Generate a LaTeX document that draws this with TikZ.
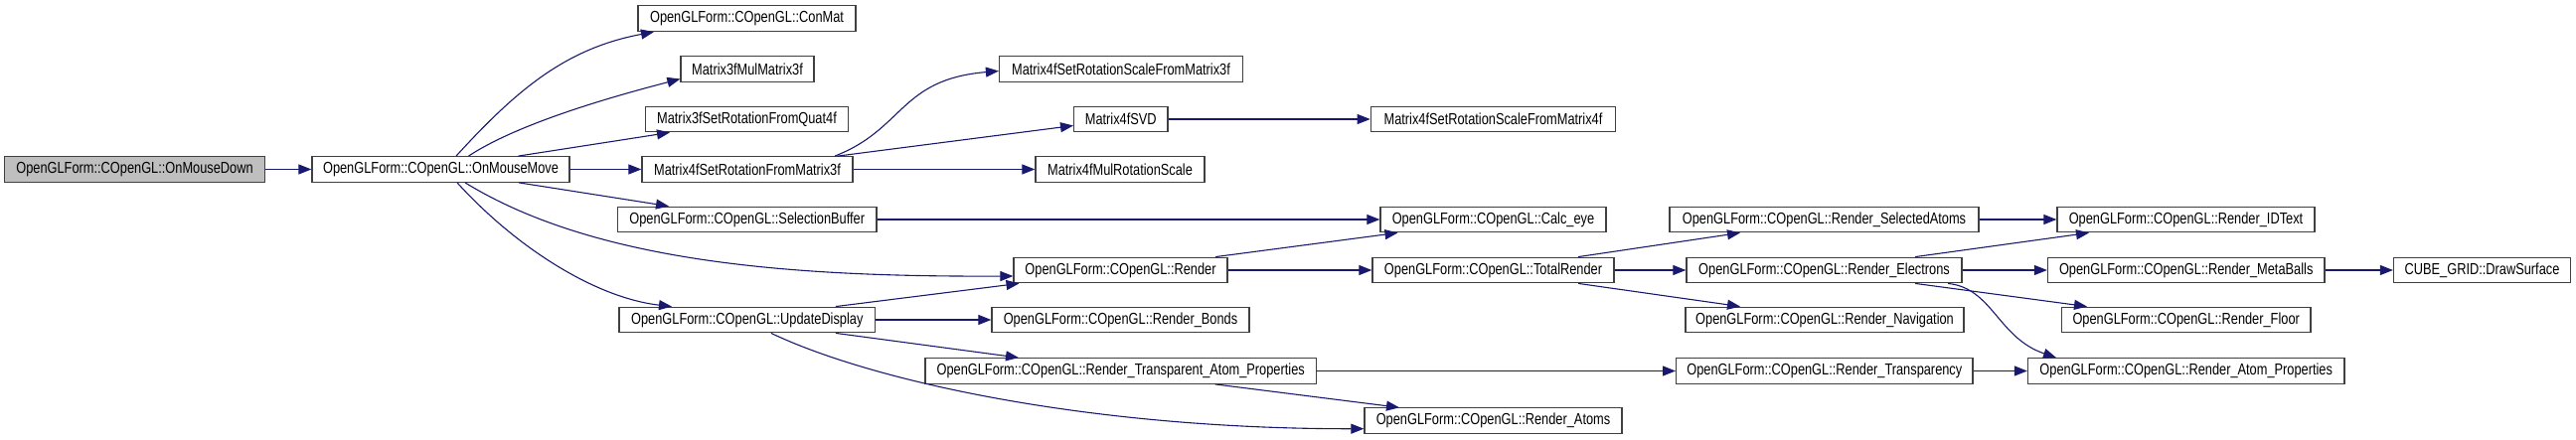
\documentclass[tikz,border=0pt]{standalone}
\usepackage{fontspec}
\setmainfont{Liberation Sans}[FakeStretch=0.8]
\usepackage{tikz}
\usetikzlibrary{arrows.meta}
\definecolor{callblue}{HTML}{191970}
\definecolor{rootgray}{HTML}{BFBFBF}
\definecolor{boxline}{HTML}{404040}

\begin{document}
\begin{tikzpicture}[x=1pt, y=-1pt,
  fn/.style={draw=boxline, line width=1.2pt, fill=white, inner sep=0pt, minimum height=25.6pt, font=\fontsize{16}{18}\selectfont},
  fnroot/.style={fn, fill=rootgray},
  call/.style={draw=callblue, line width=1.1pt, -{Triangle[length=13pt,width=10pt]}},
]
\useasboundingbox (0,0) rectangle (2592,443);

\node[fnroot, minimum width=262pt] (down) at (135.5,170.5) {OpenGLForm::COpenGL::OnMouseDown};
\node[fn, minimum width=259pt] (move) at (443.5,170.5) {OpenGLForm::COpenGL::OnMouseMove};

\node[fn, minimum width=219pt] (conmat) at (751.5,18.7) {OpenGLForm::COpenGL::ConMat};
\node[fn, minimum width=134pt] (m3mul) at (752,69.5) {Matrix3fMulMatrix3f};
\node[fn, minimum width=204pt] (m3quat) at (751.5,120) {Matrix3fSetRotationFromQuat4f};
\node[fn, minimum width=212pt] (m4rot) at (752,170.5) {Matrix4fSetRotationFromMatrix3f};
\node[fn, minimum width=260.5pt] (selbuf) at (751.7,221) {OpenGLForm::COpenGL::SelectionBuffer};
\node[fn, minimum width=257.6pt] (update) at (751.8,322) {OpenGLForm::COpenGL::UpdateDisplay};

\node[fn, minimum width=245pt] (m4rsm3) at (1128,69.5) {Matrix4fSetRotationScaleFromMatrix3f};
\node[fn, minimum width=94.4pt] (svd) at (1127.8,120) {Matrix4fSVD};
\node[fn, minimum width=170pt] (m4mul) at (1127,170.5) {Matrix4fMulRotationScale};
\node[fn, minimum width=215pt] (render) at (1127.5,272) {OpenGLForm::COpenGL::Render};
\node[fn, minimum width=259pt] (bonds) at (1127.5,322) {OpenGLForm::COpenGL::Render\_Bonds};
\node[fn, minimum width=393.5pt] (transp) at (1127.7,373.5) {OpenGLForm::COpenGL::Render\_Transparent\_Atom\_Properties};

\node[fn, minimum width=246.4pt] (m4rsm4) at (1502.5,120) {Matrix4fSetRotationScaleFromMatrix4f};
\node[fn, minimum width=227pt] (calceye) at (1502.5,221) {OpenGLForm::COpenGL::Calc\_eye};
\node[fn, minimum width=243pt] (total) at (1502.5,272) {OpenGLForm::COpenGL::TotalRender};
\node[fn, minimum width=259pt] (atoms) at (1502.5,423.7) {OpenGLForm::COpenGL::Render\_Atoms};

\node[fn, minimum width=311pt] (selatoms) at (1835.5,221) {OpenGLForm::COpenGL::Render\_SelectedAtoms};
\node[fn, minimum width=277pt] (electrons) at (1835.5,272) {OpenGLForm::COpenGL::Render\_Electrons};
\node[fn, minimum width=280pt] (navig) at (1836,322) {OpenGLForm::COpenGL::Render\_Navigation};
\node[fn, minimum width=298.4pt] (transpcy) at (1835.8,373.5) {OpenGLForm::COpenGL::Render\_Transparency};

\node[fn, minimum width=259pt] (idtext) at (2199.5,221) {OpenGLForm::COpenGL::Render\_IDText};
\node[fn, minimum width=278.5pt] (metaballs) at (2199.7,272) {OpenGLForm::COpenGL::Render\_MetaBalls};
\node[fn, minimum width=250.5pt] (floor) at (2199.7,322) {OpenGLForm::COpenGL::Render\_Floor};
\node[fn, minimum width=318.5pt] (atomprop) at (2199.7,373.5) {OpenGLForm::COpenGL::Render\_Atom\_Properties};
\node[fn, minimum width=178pt] (drawsurf) at (2497.5,272) {CUBE\_GRID::DrawSurface};

% straight calls on one row
\foreach \a/\b in {down/move, move/m4rot, m4rot/m4mul, svd/m4rsm4, selbuf/calceye,
  render/total, update/bonds, transp/transpcy, total/electrons, selatoms/idtext,
  electrons/metaballs, metaballs/drawsurf, transpcy/atomprop}
  \draw[call] (\a.east) -- (\b.west);

% calls across rows
\draw[call] ([xshift=15.5pt]move.north) .. controls (521,89) and (570.5,48.5) .. ([xshift=-93.5pt]conmat.south);
\draw[call] ([xshift=28pt]move.north) .. controls (524,122.5) and (625,95) .. ([yshift=-10pt]m3mul.west);
\draw[call] ([xshift=78pt]move.north) -- ([xshift=-77.5pt]m3quat.south);
\draw[call] ([xshift=78.5pt]move.south) -- ([xshift=-78.7pt]selbuf.north);
\draw[call] ([xshift=24.5pt]move.south) .. controls (600,265) and (800,279) .. ([yshift=-6pt]render.west);
\draw[call] ([xshift=16.5pt]move.south) .. controls (520,250) and (600,300) .. ([xshift=-75.8pt]update.north);

\draw[call] ([xshift=88pt]m4rot.north) .. controls (910,130) and (905,80) .. ([yshift=-2pt]m4rsm3.west);
\draw[call] ([xshift=91pt]m4rot.north) -- ([yshift=-6.5pt]svd.west);

\draw[call] ([xshift=95.5pt]render.north) -- ([xshift=-96pt]calceye.south);
\draw[call] ([xshift=89pt]update.north) -- ([xshift=-102pt]render.south);
\draw[call] ([xshift=89pt]update.south) -- ([xshift=-102.7pt]transp.north);
\draw[call] ([xshift=24pt]update.south) .. controls (880,385) and (1100,432) .. ([yshift=-8pt]atoms.west);
\draw[call] ([xshift=95pt]transp.south) -- ([xshift=-94.5pt]atoms.north);

\draw[call] ([xshift=85.5pt]total.north) -- ([xshift=-84.5pt]selatoms.south);
\draw[call] ([xshift=85.5pt]total.south) -- ([xshift=-85pt]navig.north);
\draw[call] ([xshift=91.5pt]electrons.north) -- ([xshift=-97.5pt]idtext.south);
\draw[call] ([xshift=91.5pt]electrons.south) -- ([xshift=-99.7pt]floor.north);
\draw[call] ([xshift=124.5pt]electrons.south) .. controls (2005,290) and (2010,340) .. ([xshift=-130.7pt]atomprop.north);
\end{tikzpicture}
\end{document}
